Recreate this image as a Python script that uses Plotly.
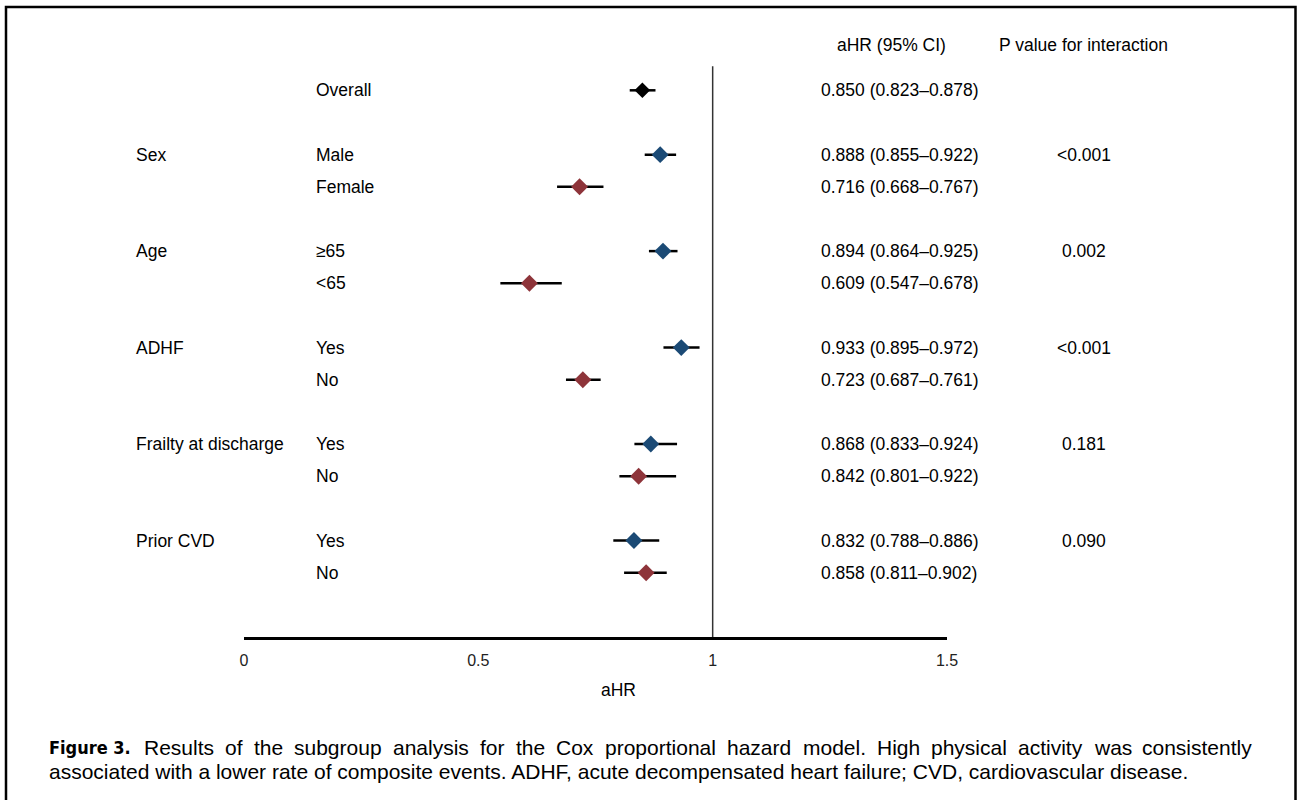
import plotly.graph_objects as go

# ---------------- data ----------------
group_labels = ["", "Sex", "", "Age", "", "ADHF", "", "Frailty at discharge", "", "Prior CVD", ""]
subgroups = ["Overall", "Male", "Female", "≥65", "<65", "Yes", "No", "Yes", "No", "Yes", "No"]
row_pos = [0, 2, 3, 5, 6, 8, 9, 11, 12, 14, 15]
ahr = [0.850, 0.888, 0.716, 0.894, 0.609, 0.933, 0.723, 0.868, 0.842, 0.832, 0.858]
ci_low = [0.823, 0.855, 0.668, 0.864, 0.547, 0.895, 0.687, 0.833, 0.801, 0.788, 0.811]
ci_high = [0.878, 0.922, 0.767, 0.925, 0.678, 0.972, 0.761, 0.924, 0.922, 0.886, 0.902]
p_values = ["", "<0.001", "", "0.002", "", "<0.001", "", "0.181", "", "0.090", ""]
tick_vals = [0, 0.5, 1, 1.5]
tick_text = ["0", "0.5", "1", "1.5"]

BLACK = "#000000"
BLUE = "#1b4a75"
RED = "#8e343a"
point_colors = [BLACK] + [BLUE if i % 2 == 0 else RED for i in range(len(ahr) - 1)]
point_sizes = [12] + [13] * (len(ahr) - 1)

caption_line1 = ("Results of the subgroup analysis for the Cox proportional hazard model. "
                 "High physical activity was consistently")
caption_line2 = ("associated with a lower rate of composite events. ADHF, acute decompensated "
                 "heart failure; CVD, cardiovascular disease.")

# ---------------- layout geometry ----------------
W, H = 1297, 800
M_T, M_B = 26, 163
PLOT_H = H - M_T - M_B
FONT = "Liberation Sans, Arial, Helvetica, sans-serif"
LABEL_SIZE = 17.5
CAP_SIZE = 21
PAD = 2  # annotation inner padding


def px(xp):
    return xp / W


def py(yp):
    return (H - M_B - yp) / PLOT_H


# Helvetica / Arial advance widths (per 1000 em) for justified caption
_AW = {' ': 278, '.': 278, ',': 278, ';': 278, '-': 333,
       'A': 667, 'C': 722, 'D': 722, 'F': 611, 'H': 722, 'R': 722, 'V': 667,
       'a': 556, 'b': 556, 'c': 500, 'd': 556, 'e': 556, 'f': 278, 'g': 556,
       'h': 556, 'i': 222, 'j': 222, 'k': 500, 'l': 222, 'm': 833, 'n': 556,
       'o': 556, 'p': 556, 'q': 556, 'r': 333, 's': 500, 't': 278, 'u': 556,
       'v': 500, 'w': 722, 'x': 500, 'y': 500, 'z': 500}


def text_w(s, size):
    return sum(_AW.get(ch, 556) for ch in s) / 1000.0 * size


fig = go.Figure()

fig.add_trace(go.Scatter(
    x=ahr, y=row_pos, mode="markers",
    marker=dict(symbol="diamond", size=point_sizes, color=point_colors,
                opacity=1, line=dict(width=0)),
    error_x=dict(type="data", symmetric=False,
                 array=[h - m for h, m in zip(ci_high, ahr)],
                 arrayminus=[m - l for m, l in zip(ahr, ci_low)],
                 color="black", thickness=2.5, width=0),
    showlegend=False, hoverinfo="skip",
))

annotations = []
# row labels and values
for g, s, r, m, lo, hi, p in zip(group_labels, subgroups, row_pos, ahr, ci_low, ci_high, p_values):
    if g:
        annotations.append(dict(x=px(136 - PAD), y=r, xref="paper", yref="y", text=g,
                                xanchor="left", yanchor="middle", showarrow=False,
                                font=dict(size=LABEL_SIZE, color="black", family=FONT)))
    annotations.append(dict(x=px(316 - PAD), y=r, xref="paper", yref="y", text=s,
                            xanchor="left", yanchor="middle", showarrow=False,
                            font=dict(size=LABEL_SIZE, color="black", family=FONT)))
    annotations.append(dict(x=px(821 - PAD), y=r, xref="paper", yref="y",
                            text=f"{m:.3f} ({lo:.3f}–{hi:.3f})",
                            xanchor="left", yanchor="middle", showarrow=False,
                            font=dict(size=LABEL_SIZE, color="black", family=FONT)))
    if p:
        annotations.append(dict(x=px(1084), y=r, xref="paper", yref="y", text=p,
                                xanchor="center", yanchor="middle", showarrow=False,
                                font=dict(size=LABEL_SIZE, color="black", family=FONT)))

# column headers
annotations.append(dict(x=px(891), y=py(45), xref="paper", yref="paper", text="aHR (95% CI)",
                        xanchor="center", yanchor="middle", showarrow=False,
                        font=dict(size=LABEL_SIZE, color="black", family=FONT)))
annotations.append(dict(x=px(1083), y=py(45), xref="paper", yref="paper",
                        text="P value for interaction",
                        xanchor="center", yanchor="middle", showarrow=False,
                        font=dict(size=LABEL_SIZE, color="black", family=FONT)))
# x axis title
annotations.append(dict(x=px(618), y=py(690), xref="paper", yref="paper", text="aHR",
                        xanchor="center", yanchor="middle", showarrow=False,
                        font=dict(size=LABEL_SIZE, color="black", family=FONT)))

# caption
annotations.append(dict(x=px(49 - PAD), y=py(747), xref="paper", yref="paper",
                        text="<b>Figure 3.</b>", xanchor="left", yanchor="middle",
                        showarrow=False,
                        font=dict(size=18,
                                  color="black",
                                  family="DejaVu Sans Condensed, Liberation Sans Narrow, Liberation Sans, sans-serif")))
words = caption_line1.split(" ")
x_start, x_end = 144, 1252
total_w = sum(text_w(w_, CAP_SIZE) for w_ in words)
gap = (x_end - x_start - total_w) / (len(words) - 1)
cur = x_start
for w_ in words:
    annotations.append(dict(x=px(cur - PAD), y=py(747), xref="paper", yref="paper", text=w_,
                            xanchor="left", yanchor="middle", showarrow=False,
                            font=dict(size=CAP_SIZE, color="black", family=FONT)))
    cur += text_w(w_, CAP_SIZE) + gap
annotations.append(dict(x=px(49 - PAD), y=py(771), xref="paper", yref="paper", text=caption_line2,
                        xanchor="left", yanchor="middle", showarrow=False,
                        font=dict(size=CAP_SIZE, color="black", family=FONT)))

shapes = [
    # reference line at aHR = 1
    dict(type="line", xref="x", yref="y", x0=1, x1=1, y0=-0.75, y1=17,
         line=dict(color="#333333", width=1.5)),
    # figure frame (open at bottom)
    dict(type="path", xref="paper", yref="paper",
         path=f"M {px(6)} {py(800)} L {px(6)} {py(7)} L {px(1295.5)} {py(7)} L {px(1295.5)} {py(800)}",
         line=dict(color="black", width=2.5)),
]

fig.update_layout(
    width=W, height=H, autosize=False,
    margin=dict(l=0, r=0, t=M_T, b=M_B, pad=0, autoexpand=False),
    paper_bgcolor="white", plot_bgcolor="white",
    showlegend=False,
    xaxis=dict(domain=[px(244), px(947)], range=[0, 1.5],
               tickvals=tick_vals, ticktext=tick_text,
               showline=True, linecolor="black", linewidth=3,
               showgrid=False, zeroline=False, automargin=False,
               ticks="outside", ticklen=7, tickcolor="rgba(0,0,0,0)",
               tickfont=dict(size=16, color="#222222", family=FONT)),
    yaxis=dict(range=[17, -2], visible=False, showgrid=False, zeroline=False,
               automargin=False),
    annotations=annotations,
    shapes=shapes,
    font=dict(family=FONT, color="black"),
)

fig.write_html(
    "out.html",
    config={"displayModeBar": False, "responsive": False},
    post_script=("document.documentElement.style.margin='0px';"
                 "document.body.style.margin='0px';"
                 "document.documentElement.style.overflow='hidden';"
                 "document.body.style.overflow='hidden';"),
)
